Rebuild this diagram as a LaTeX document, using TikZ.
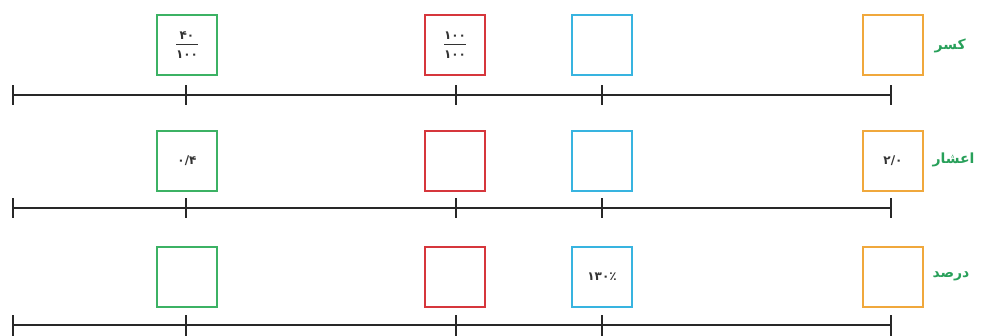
\documentclass[tikz,border=0pt]{standalone}
\usepackage{fontspec}
\setmainfont{DejaVu Sans}
\newfontfamily\arabicfont[Script=Arabic]{DejaVu Sans}
\TeXXeTstate=1
\definecolor{cgreen}{RGB}{60,178,100}
\definecolor{cred}{RGB}{214,54,60}
\definecolor{cblue}{RGB}{56,180,224}
\definecolor{corange}{RGB}{240,168,60}
\definecolor{clabel}{RGB}{40,160,90}
\definecolor{cline}{RGB}{40,40,40}
\newcommand{\myfrac}[2]{$\displaystyle\frac{\mbox{\arabicfont\bfseries\fontsize{12}{13}\selectfont #1}\rule[-3pt]{0pt}{3pt}}{\rule{0pt}{13pt}\mbox{\arabicfont\bfseries\fontsize{12}{13}\selectfont #2}}$}
\tikzset{
  sqbox/.style={draw=#1, line width=2.4pt, minimum width=60pt, minimum height=60pt, inner sep=0pt, fill=white},
  axisline/.style={draw=cline, line width=1.5pt},
  tickline/.style={draw=cline, line width=1.5pt},
  numtxt/.style={font=\arabicfont\bfseries\fontsize{12}{13}\selectfont, text=black!80},
  rowlabel/.style={font=\arabicfont\bfseries\fontsize{14}{15}\selectfont, text=clabel, anchor=west}
}
\begin{document}
\begin{tikzpicture}[x=1pt,y=-1pt]
\useasboundingbox (0,0) rectangle (984,335);
% ---- row 1 : fraction
\coordinate (L1) at (13,95); \coordinate (R1) at (891,95);
\draw[axisline] (L1) -- (R1);
\foreach \x in {13,186,456,602,891} \draw[tickline] (\x,85) -- (\x,105);
\node[sqbox=cgreen] (g1) at (187,45) {};
\node[numtxt] at (g1) {\myfrac{۴۰}{۱۰۰}};
\node[sqbox=cred] (r1) at (455,45) {};
\node[numtxt] at (r1) {\myfrac{۱۰۰}{۱۰۰}};
\node[sqbox=cblue] (b1) at (602,45) {};
\node[sqbox=corange] (o1) at (893,45) {};
\node[rowlabel] (lab1) at (931,46) {\beginR کسر\endR};
% ---- row 2 : decimal
\coordinate (L2) at (13,208); \coordinate (R2) at (891,208);
\draw[axisline] (L2) -- (R2);
\foreach \x in {13,186,456,602,891} \draw[tickline] (\x,198) -- (\x,218);
\node[sqbox=cgreen] (g2) at (187,161) {};
\node[numtxt] at (g2) {۰/۴};
\node[sqbox=cred] (r2) at (455,161) {};
\node[sqbox=cblue] (b2) at (602,161) {};
\node[sqbox=corange] (o2) at (893,161) {};
\node[numtxt] at (o2) {۲/۰};
\node[rowlabel] (lab2) at (929,160) {\beginR اعشار\endR};
% ---- row 3 : percent
\coordinate (L3) at (13,325); \coordinate (R3) at (891,325);
\draw[axisline] (L3) -- (R3);
\foreach \x in {13,186,456,602,891} \draw[tickline] (\x,315) -- (\x,340);
\node[sqbox=cgreen] (g3) at (187,277) {};
\node[sqbox=cred] (r3) at (455,277) {};
\node[sqbox=cblue] (b3) at (602,277) {};
\node[numtxt] at (b3) {۱۳۰٪};
\node[sqbox=corange] (o3) at (893,277) {};
\node[rowlabel] (lab3) at (929,276) {\beginR درصد\endR};
\end{tikzpicture}
\end{document}
